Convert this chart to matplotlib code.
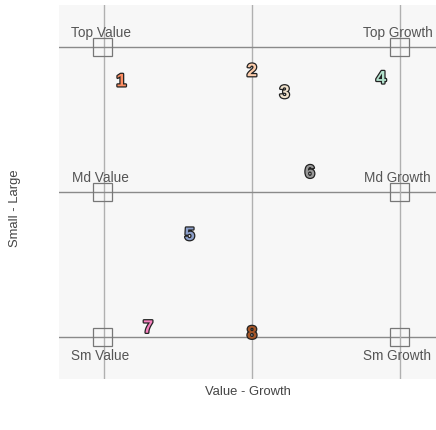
import matplotlib.pyplot as plt
import matplotlib.patheffects as pe
from matplotlib.patches import Rectangle

# style box positions (value-growth, small-large)
labels = ["1", "2", "3", "4", "5", "6", "7", "8"]
xs = [-0.88, 0.0, 0.22, 0.87, -0.42, 0.39, -0.70, 0.0]
ys = [0.76, 0.83, 0.68, 0.78, -0.30, 0.13, -0.94, -0.98]
colors = ["#FC8D62", "#FDCDAC", "#F1E2CC", "#B3E2CD",
          "#8DA0CB", "#999999", "#F781BF", "#A65628"]

box_names = ["Top Value", "Top Growth", "Md Value", "Md Growth", "Sm Value", "Sm Growth"]
box_x = [-1, 1, -1, 1, -1, 1]
box_y = [1, 1, 0, 0, -1, -1]

plt.rcParams["font.family"] = ["Liberation Sans", "DejaVu Sans"]

fig = plt.figure(figsize=(4.36, 4.30), dpi=100)
ax = fig.add_axes([59/436, 1 - 379/430, (436-59)/436, (379-5)/430])
ax.set_facecolor("#f7f7f7")
for s in ax.spines.values():
    s.set_visible(False)
ax.set_xlim(-1.30, 1.24)
ax.set_ylim(-1.29, 1.29)
ax.set_xticks([])
ax.set_yticks([])

for v in [-1, 0, 1]:
    ax.axvline(v, color="#b0b0b0", lw=1, zorder=1)
    ax.axhline(v, color="#8a8a8a", lw=1, zorder=1)

for name, bx, by in zip(box_names, box_x, box_y):
    ax.add_patch(Rectangle((bx - 0.07, by - 0.065), 0.13, 0.13, fill=False,
                           edgecolor="#777777", lw=0.9, zorder=2))
    if by < 0:
        ax.text(bx - 0.02, by - 0.08, name, ha="center", va="top",
                fontsize=9.8, color="#555555")
    else:
        ax.text(bx - 0.02, by + 0.05, name, ha="center", va="bottom",
                fontsize=9.8, color="#555555")

for lab, x, y, c in zip(labels, xs, ys, colors):
    ax.text(x, y, lab, ha="center", va="center", fontsize=13, fontweight="bold",
            color=c, zorder=3,
            path_effects=[pe.withStroke(linewidth=1.8, foreground="#222222")])

fig.text(248/436, 1 - 392/430, "Value - Growth", ha="center", va="center",
         fontsize=9.4, color="#444444")
fig.text(15/436, 1 - 208/430, "Small - Large", ha="center", va="center",
         rotation=90, fontsize=9.4, color="#444444")

fig.savefig("out.png", dpi=100)
